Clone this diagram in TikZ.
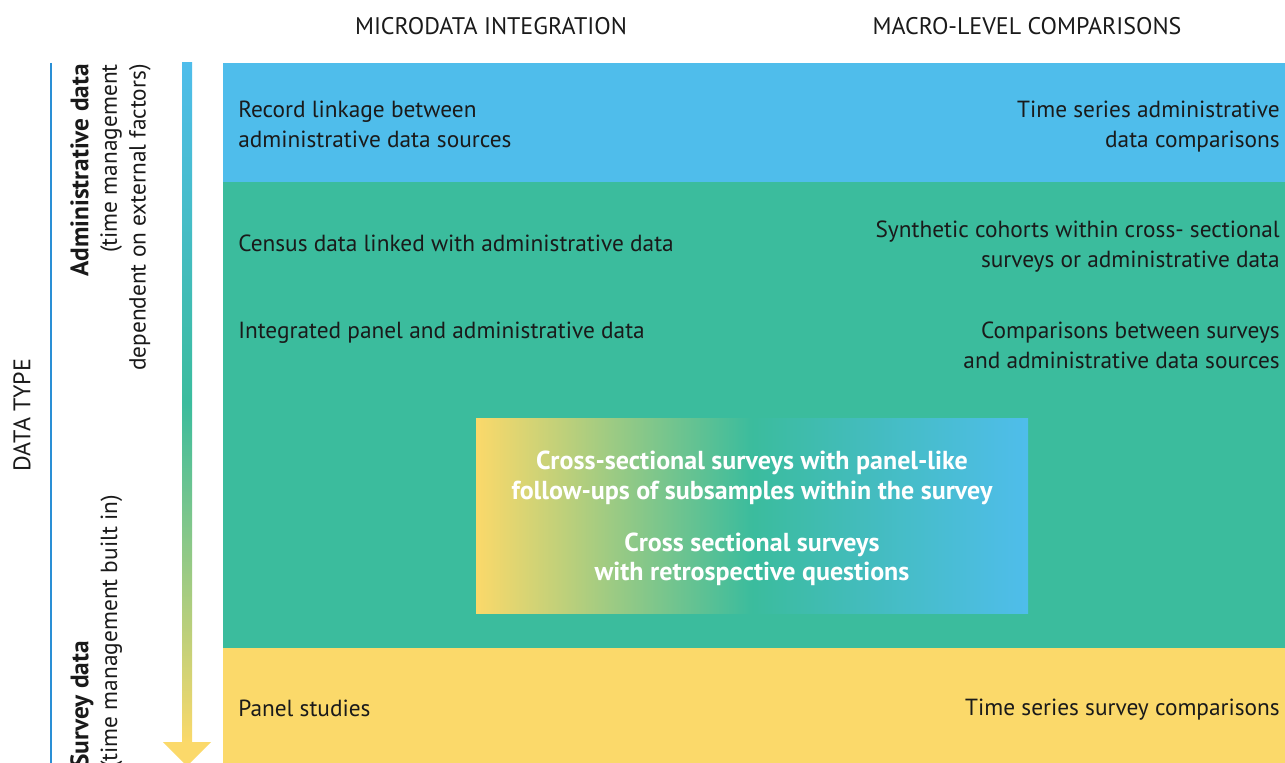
\documentclass[tikz,border=0pt]{standalone}
\usepackage{fontspec}
\setmainfont{PT Sans}
\usetikzlibrary{positioning}

\definecolor{admblue}{HTML}{4FBDEB}
\definecolor{mixgreen}{HTML}{3BBC9D}
\definecolor{survyellow}{HTML}{FBD96A}
\definecolor{lineblue}{HTML}{2A8FD5}
\definecolor{textgray}{HTML}{1A1A1A}

\tikzset{
  cell/.style={inner sep=0pt, text=textgray, font=\fontsize{17.5}{22.5}\selectfont},
  side/.style={inner sep=0pt, text=textgray, font=\fontsize{17.5}{21.5}\selectfont},
  head/.style={inner sep=0pt, text=textgray, font=\fontsize{18}{20}\selectfont},
  mixtext/.style={inner sep=0pt, text=white, align=center, font=\bfseries\fontsize{19.5}{22}\selectfont}
}
\newcommand{\sidetitle}[1]{{\bfseries\fontsize{19}{21.5}\selectfont #1}}

\begin{document}
\begin{tikzpicture}[x=0.75pt, y=-0.75pt]
    \clip (0,0) rectangle (1285,763);
    \fill[white] (0,0) rectangle (1285,763);

    % rows
    \fill[admblue] (223,63) rectangle (1285,182);
    \fill[mixgreen] (223,182) rectangle (1285,648);
    \fill[survyellow] (223,648) rectangle (1285,763);
    \shade[left color=survyellow, right color=admblue, middle color=mixgreen] (476,418) rectangle (1028,613);

    % data type axis
    \draw[lineblue, line width=1.2pt] (51,63) -- (51,763);
    \shade[top color=admblue, bottom color=survyellow, middle color=mixgreen] (182,63) rectangle (192,743);
    \fill[survyellow] (163,742) -- (211,742) -- (187,766) -- cycle;

    \node (micro) [head] at (491,26) {MICRODATA INTEGRATION};
    \node (macro) [head] at (1027,26) {MACRO-LEVEL COMPARISONS};

    \node (dtype) [head, rotate=90] at (22,415) {DATA TYPE};
    \node (adm) [side, rotate=90, anchor=north east, align=right] at (70,64)
        {\sidetitle{Administrative data}\\(time management\\dependent on external factors)};
    \node (surv) [side, rotate=90, anchor=north west, align=left] at (70,768)
        {\sidetitle{Survey data}\\(time management built in)};

    \node (record) [cell, anchor=west, align=left] at (238,124) {Record linkage between\\administrative data sources};
    \node (census) [cell, anchor=west] at (238,243) {Census data linked with administrative data};
    \node (integ) [cell, anchor=west] at (238,333) {Integrated panel and administrative data};
    \node (panel) [cell, anchor=west] at (238,708) {Panel studies};

    \node (tsadm) [cell, anchor=east, align=right] at (1280,127) {Time series administrative\\data comparisons};
    \node (synth) [cell, anchor=east, align=right] at (1280,247) {Synthetic cohorts within cross- sectional\\surveys or administrative data};
    \node (compar) [cell, anchor=east, align=right] at (1280,345) {Comparisons between surveys\\and administrative data sources};
    \node (tssurv) [cell, anchor=east] at (1280,710) {Time series survey comparisons};

    \node (cross) [mixtext] at (752,478) {Cross-sectional surveys with panel-like\\follow-ups of subsamples within the survey};
    \node (retro) [mixtext] at (752,559) {Cross sectional surveys\\with retrospective questions};
\end{tikzpicture}
\end{document}
